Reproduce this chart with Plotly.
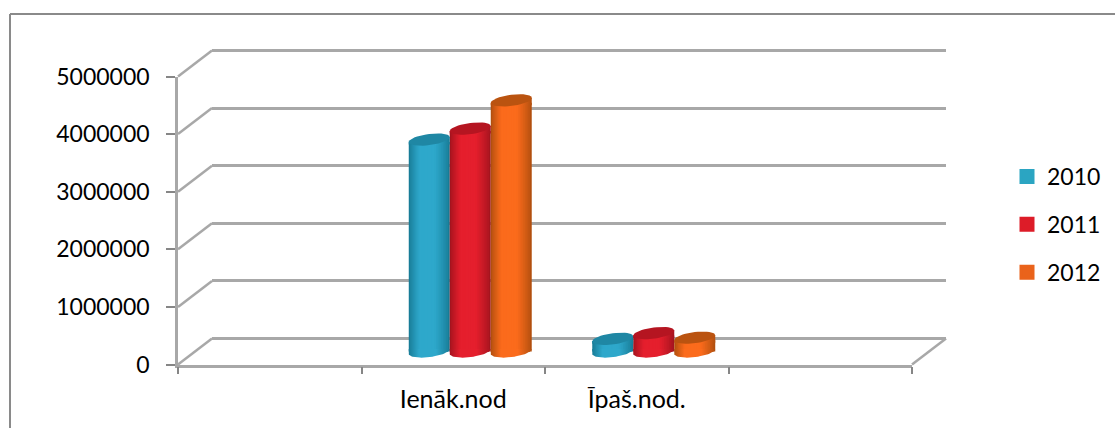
import math
import plotly.graph_objects as go

W, H = 1115, 428

categories = [" ", "Ienāk.nod", "Īpaš.nod.", "  "]
years = ["2010", "2011", "2012"]
values_2010 = [None, 3680000, 220000, None]
values_2011 = [None, 3870000, 320000, None]
values_2012 = [None, 4360000, 240000, None]
y_ticks = [0, 1000000, 2000000, 3000000, 4000000, 5000000]

base_colors = ["#2ea8cb", "#e51f2d", "#fb6b1c"]
dark_colors = ["#187c97", "#a5141f", "#b2500f"]
cap_colors = ["#1f87a4", "#b51521", "#ba5310"]
legend_colors = ["#2ba5c2", "#dd1c28", "#ea631b"]
GRID = "#a8a8a8"
FONT = "Lato"

# pixel geometry of the fake 3D box
FRONT_L, FRONT_R, FRONT_TOP, FRONT_BOT = 178, 912, 76.5, 364.5
DX, DY = 34, 26
BAR_W = 0.2234
CAP_B = 5.6  # px
CAP_TILT = 2.5  # px
PX_PER_UNIT = (FRONT_BOT - FRONT_TOP) / 5000000
PAD = 100000  # wall axis runs a bit past 0 and 5M so both grid lines get drawn
BAR_PAD = 300000  # room under the bars for the rounded bottoms
TILT_V = CAP_TILT / PX_PER_UNIT


def px(x):
    return x / W


def py(y):
    return 1 - y / H


def hex_rgb(c):
    return [int(c[i:i + 2], 16) for i in (1, 3, 5)]


def mix(a, b, t):
    ra, rb = hex_rgb(a), hex_rgb(b)
    return "rgb(%d,%d,%d)" % tuple(ra[i] + (rb[i] - ra[i]) * t for i in range(3))


def ellipse(cx, v, t0=0, t1=2 * math.pi, n=40):
    xs, ys = [], []
    for i in range(n + 1):
        t = t0 + (t1 - t0) * i / n
        xs.append(cx + BAR_W / 2 * math.cos(t))
        ys.append(v + (CAP_B * math.sin(t) + CAP_TILT * math.cos(t)) / PX_PER_UNIT)
    return xs, ys


def shaded(xs, ys, s):
    return go.Scatter(
        x=xs, y=ys, xaxis="x3", yaxis="y3", mode="lines", line_width=0, fill="toself",
        fillgradient=dict(type="horizontal", colorscale=[
            [0, dark_colors[s]], [0.25, base_colors[s]], [0.66, base_colors[s]], [1, dark_colors[s]]]),
        showlegend=False, hoverinfo="skip",
    )


fig = go.Figure()

# back wall grid (primary axes so it sits underneath everything)
fig.add_trace(go.Scatter(x=[0], y=[0], xaxis="x", yaxis="y", mode="markers",
                         marker=dict(opacity=0), showlegend=False, hoverinfo="skip"))
# front axes with the tick labels
fig.add_trace(go.Scatter(x=categories, y=[0, 0, 0, 0], xaxis="x2", yaxis="y2", mode="markers",
                         marker=dict(opacity=0), showlegend=False, hoverinfo="skip"))

N = 14
series = [values_2010, values_2011, values_2012]
for s, vals in enumerate(series):
    idx = list(range(len(categories)))
    # body stops where the tilted cap begins
    body = [None if v is None else v - TILT_V for v in vals]
    for k in range(N + 1):
        f = k / N
        lo = 0.42 * f
        hi = 1 - 0.58 * f
        fig.add_trace(go.Bar(
            x=idx, y=body, xaxis="x3", yaxis="y3",
            width=BAR_W * (hi - lo),
            offset=BAR_W * (s - 1.5 + lo),
            marker=dict(color=mix(dark_colors[s], base_colors[s], min(1, f * 1.7) ** 0.8), line_width=0),
            name=years[s], legendgroup=years[s], showlegend=False, hoverinfo="skip",
        ))
    # legend entry only, no bar of its own
    fig.add_trace(go.Bar(
        x=[None], y=[None], xaxis="x3", yaxis="y3",
        marker=dict(color=legend_colors[s], line=dict(color=legend_colors[s], width=3)),
        name=years[s], legendgroup=years[s], showlegend=True, hoverinfo="skip",
    ))
    for i, v in enumerate(vals):
        if v is None:
            continue
        cx = i + BAR_W * (s - 1)
        left, right = cx - BAR_W / 2, cx + BAR_W / 2
        # rounded bottom, closed upwards so the tilt leaves no gap
        xs, ys = ellipse(cx, 0, 0, -math.pi)
        fig.add_trace(shaded(xs + [left], ys + [TILT_V], s))
        # shoulder between the flat body top and the tilted cap
        fig.add_trace(shaded([left, right, right, left], [v - TILT_V, v + TILT_V, v - 2 * TILT_V, v - 2 * TILT_V], s))
        # top of the cylinder
        xs, ys = ellipse(cx, v)
        fig.add_trace(go.Scatter(
            x=xs, y=ys, xaxis="x3", yaxis="y3", mode="lines", line_width=0, fill="toself",
            fillcolor=cap_colors[s], showlegend=False, hoverinfo="skip",
        ))

pad_px = PAD * PX_PER_UNIT
fig.update_layout(
    template="none",
    width=W, height=H, margin=dict(l=0, r=0, t=0, b=0),
    paper_bgcolor="white", plot_bgcolor="rgba(0,0,0,0)",
    barmode="overlay", font=dict(family=FONT, size=23, color="#000000"),
    xaxis=dict(domain=[px(FRONT_L + DX), px(FRONT_R + DX)], range=[0, 1], visible=False, anchor="y"),
    yaxis=dict(domain=[py(FRONT_BOT - DY + pad_px), py(FRONT_TOP - DY - pad_px)],
               range=[-PAD, 5000000 + PAD], anchor="x",
               tickvals=y_ticks, showgrid=True, gridcolor=GRID, gridwidth=2.5,
               showticklabels=False, ticks="", zeroline=False, showline=False),
    xaxis2=dict(domain=[px(FRONT_L), px(FRONT_R)], anchor="y2", type="category",
                categoryorder="array", categoryarray=categories, range=[-0.5, 3.5],
                tickson="boundaries", ticks="outside", ticklen=7, tickwidth=2, tickcolor="#868686",
                tickfont=dict(size=25),
                showline=True, linecolor=GRID, linewidth=2.5, showgrid=False, zeroline=False,
                ticklabelstandoff=11),
    yaxis2=dict(domain=[py(FRONT_BOT), py(FRONT_TOP)], anchor="x2", range=[0, 5000000],
                tickvals=y_ticks, tickformat="d", ticks="outside", ticklen=9, tickwidth=2,
                tickcolor="#868686", showline=True, linecolor=GRID, linewidth=2.5, showgrid=False,
                zeroline=False, ticklabelstandoff=12),
    xaxis3=dict(domain=[px(FRONT_L + DX / 2), px(FRONT_R + DX / 2)], range=[-0.5, 3.5],
                visible=False, anchor="y3"),
    yaxis3=dict(domain=[py(FRONT_BOT - DY / 2 + BAR_PAD * PX_PER_UNIT), py(FRONT_TOP - DY / 2)],
                range=[-BAR_PAD, 5000000], visible=False, anchor="x3"),
    legend=dict(x=px(1007), y=py(155), xanchor="left", yanchor="top", tracegroupgap=15,
                font=dict(size=23), bgcolor="rgba(0,0,0,0)", itemclick=False, itemdoubleclick=False),
)

# diagonal edges of the floor and side wall
shapes = []
for t in y_ticks:
    yp = FRONT_BOT - t * PX_PER_UNIT
    shapes.append(dict(type="line", xref="paper", yref="paper", layer="below",
                       x0=px(FRONT_L), y0=py(yp), x1=px(FRONT_L + DX), y1=py(yp - DY),
                       line=dict(color=GRID, width=2.5)))
shapes.append(dict(type="line", xref="paper", yref="paper", layer="below",
                   x0=px(FRONT_R), y0=py(FRONT_BOT), x1=px(FRONT_R + DX), y1=py(FRONT_BOT - DY),
                   line=dict(color=GRID, width=2.5)))
# chart frame, only left and top are inside the picture
shapes.append(dict(type="line", xref="paper", yref="paper", layer="below",
                   x0=px(10), y0=py(14), x1=px(10), y1=0, line=dict(color="#8a8a8a", width=2)))
shapes.append(dict(type="line", xref="paper", yref="paper", layer="below",
                   x0=px(10), y0=py(14), x1=1, y1=py(14), line=dict(color="#8a8a8a", width=2)))
fig.update_layout(shapes=shapes)

fig.write_html("out.html", config={"displayModeBar": False},
               post_script="document.body.style.margin='0';document.body.style.overflow='hidden';")
